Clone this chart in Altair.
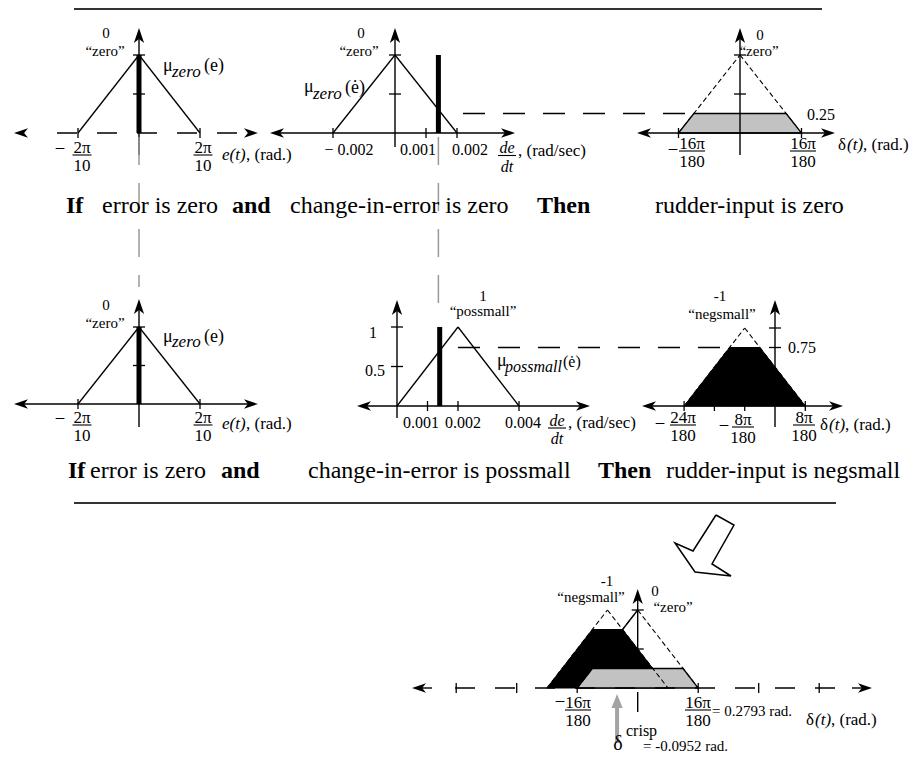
import math
import altair as alt
import pandas as pd

PI = math.pi

# ---------------- values ----------------
error_zero = [-2 * PI / 10, 0.0, 2 * PI / 10]          # "zero" for e(t)
dedt_zero = [-0.002, 0.0, 0.002]                        # "zero" for de/dt
dedt_possmall = [0.0, 0.002, 0.004]                     # "possmall" for de/dt
rudder_zero = [-16 * PI / 180, 0.0, 16 * PI / 180]      # "zero" for delta(t)
rudder_negsmall = [-24 * PI / 180, -8 * PI / 180, 8 * PI / 180]  # "negsmall"
mf_levels = [0.0, 1.0, 0.0]
error_input = 0.0
dedt_input = 0.0014
rule_strength = [0.25, 0.75]
delta_crisp = -0.0952

error_ticks = [-2 * PI / 10, 2 * PI / 10]
dedt_zero_ticks = [-0.002, 0.001, 0.002]
dedt_possmall_ticks = [0.001, 0.002, 0.004]
rudder_zero_ticks = [-16 * PI / 180, 16 * PI / 180]
rudder_negsmall_ticks = [-24 * PI / 180, -16 * PI / 180, -8 * PI / 180, 8 * PI / 180]
agg_ticks = [-48 * PI / 180, -32 * PI / 180, -16 * PI / 180, 16 * PI / 180,
             32 * PI / 180, 48 * PI / 180]
mu_ticks = [0.5, 1.0]
mu_ticks_negsmall = [0.75, 1.0]

dedt_zero_labels = ["\u2212 0.002", "0.001", "0.002"]
dedt_possmall_labels = ["0.001", "0.002", "0.004"]
error_tick_labels = [("\u2013", "2\u03c0", "10"), ("", "2\u03c0", "10")]
rudder_zero_labels = [("\u2013", "16\u03c0", "180"), ("", "16\u03c0", "180")]
rudder_negsmall_labels = [("\u2013", "24\u03c0", "180"), ("\u2013", "8\u03c0", "180"), ("", "8\u03c0", "180")]
agg_labels = [("\u2013", "16\u03c0", "180"), ("", "16\u03c0", "180")]

rule1_words = ["If", "error is zero", "and", "change-in-error is zero", "Then", "rudder-input is zero"]
rule2_words = ["If", "error is zero", "and", "change-in-error is possmall", "Then", "rudder-input is negsmall"]
rule_bold = [True, False, True, False, True, False]

# ---------------- layout ----------------
FONT = "'Liberation Serif', 'Times New Roman', Times, 'DejaVu Serif', serif"
W, H = 902, 745
XS = alt.Scale(domain=[8, 8 + W], nice=False, zero=False)
YS = alt.Scale(domain=[8, 8 + H], nice=False, zero=False, reverse=True)

PAN = {
    "e1": dict(x0=139.0, y0=133.0, sx=61.0 / (2 * PI / 10), sy=78.0),
    "d1": dict(x0=395.0, y0=133.0, sx=62.0 / 0.002, sy=78.0),
    "u1": dict(x0=740.0, y0=133.0, sx=61.5 / (16 * PI / 180), sy=78.0),
    "e2": dict(x0=139.0, y0=404.0, sx=61.0 / (2 * PI / 10), sy=77.0),
    "d2": dict(x0=397.0, y0=406.0, sx=61.0 / 0.002, sy=79.0),
    "u2": dict(x0=775.0, y0=406.0, sx=30.3 / (8 * PI / 180), sy=78.0),
    "ag": dict(x0=637.7, y0=688.0, sx=60.5 / (16 * PI / 180), sy=78.0),
}
AX = {
    "e1": dict(xl=14, xr=258, yt=28, yb=155),
    "d1": dict(xl=270, xr=515, yt=28, yb=147),
    "u1": dict(xl=637, xr=835, yt=28, yb=155),
    "e2": dict(xl=14, xr=258, yt=299, yb=427),
    "d2": dict(xl=357, xr=590, yt=300, yb=418),
    "u2": dict(xl=642, xr=843, yt=300, yb=427),
    "ag": dict(xl=412, xr=872, yt=589, yb=650),
}


def PX(p, u):
    return PAN[p]["x0"] + u * PAN[p]["sx"]


def PY(p, m):
    return PAN[p]["y0"] - m * PAN[p]["sy"]


segs, heads, areas, texts = [], [], [], []


def S(style, x1, y1, x2, y2, layer="over"):
    segs.append(dict(style=style, layer=layer, x=x1, y=y1, x2=x2, y2=y2))


def arrow(tx, ty, ang, L=14, color="black"):
    d = {0: (1, 0), 180: (-1, 0), 270: (0, -1), 90: (0, 1)}[ang]
    heads.append(dict(x=tx - d[0] * L / 2, y=ty - d[1] * L / 2, angle=ang,
                      size=L * L, color=color))


def T(text, x, y, size, style="normal", align="center"):
    texts.append(dict(text=text, x=x, y=y, size=size, style=style, align=align))


def tri(p, mf, style, layer="over"):
    for i in range(2):
        S(style, PX(p, mf[i]), PY(p, mf_levels[i]), PX(p, mf[i + 1]), PY(p, mf_levels[i + 1]), layer)


def clip_points(mf, h):
    a, b, c = mf
    return [a, a + h * (b - a), c - h * (c - b), c]


def trap(p, mf, h, fill, sid):
    xs = clip_points(mf, h)
    for xv, lv in zip(xs, [0, h, h, 0]):
        areas.append(dict(shape=sid, fill=fill, x=PX(p, xv), y=PY(p, lv), y2=PY(p, 0)))


def frac(cx, bar_y, num, den, w, size=17, italic=False):
    st = "italic" if italic else "normal"
    T(num, cx, bar_y - 2.5, size, st)
    T(den, cx, bar_y + 16, size, st)
    S("frac", cx - w / 2, bar_y, cx + w / 2, bar_y)


# ---- horizontal rules ----
S("rule", 74, 9, 822, 9)
S("rule", 74, 503, 836, 503)

# ---- axes ----
for p, a in AX.items():
    x0, y0 = PAN[p]["x0"], PAN[p]["y0"]
    if p == "e1":
        S("axis_dash", 57, y0, 240, y0)
    elif p == "ag":
        S("axis_dash", 455, y0, 836, y0)
        S("axis", 418, y0, 432, y0)
        S("axis", 852, y0, 866, y0)
    else:
        S("axis", a["xl"] + 4, y0, a["xr"] - 4, y0)
    arrow(a["xl"], y0, 180)
    arrow(a["xr"], y0, 0)
    S("axis", x0, a["yt"] + 5, x0, a["yb"], "under" if p == "ag" else "over")
    arrow(x0, a["yt"], 270, L=15)
S("axis", PAN["ag"]["x0"], 692, PAN["ag"]["x0"], 712)

# ---- ticks ----
tick_sets = [("e1", error_ticks, mu_ticks), ("d1", dedt_zero_ticks, mu_ticks),
             ("u1", rudder_zero_ticks, mu_ticks), ("e2", error_ticks, mu_ticks),
             ("d2", dedt_possmall_ticks, mu_ticks), ("u2", rudder_negsmall_ticks, mu_ticks_negsmall),
             ("ag", agg_ticks, mu_ticks)]
for p, xt, yt in tick_sets:
    x0, y0 = PAN[p]["x0"], PAN[p]["y0"]
    for t in xt:
        S("tick", PX(p, t), y0 - 5, PX(p, t), y0 + 5)
    for m in yt:
        S("tick", x0 - 6, PY(p, m), x0 + 6, PY(p, m))

# ---- membership functions ----
tri("e1", error_zero, "mf")
tri("d1", dedt_zero, "mf")
tri("u1", rudder_zero, "mf_dash", "under")
tri("e2", error_zero, "mf")
tri("d2", dedt_possmall, "mf")
tri("u2", rudder_negsmall, "mf_dash", "under")
tri("ag", rudder_negsmall, "mf_dash", "over")
tri("ag", rudder_zero, "mf_dash", "over")
# solid part of zero's left edge above the negsmall cut
h2 = rule_strength[1]
S("mf", PX("ag", rudder_zero[1]), PY("ag", 1.0),
  PX("ag", clip_points(rudder_negsmall, h2)[2]), PY("ag", h2))

trap("u1", rudder_zero, rule_strength[0], "stipple", "u1")
trap("u2", rudder_negsmall, rule_strength[1], "black", "u2")
trap("ag", rudder_negsmall, rule_strength[1], "black", "agn")
trap("ag", rudder_zero, rule_strength[0], "stipple", "agz")

# ---- measured inputs (bars) and guide lines ----
for p, v in [("e1", error_input), ("d1", dedt_input), ("e2", error_input), ("d2", dedt_input)]:
    S("bar", PX(p, v), PY(p, 0), PX(p, v), PY(p, 1))
S("guide", PX("e1", error_input), 137, PX("e1", error_input), 287)
S("guide", PX("d1", dedt_input), 137, PX("d1", dedt_input), 312)

# ---- firing-level dashed lines ----
yl1 = PY("u1", rule_strength[0])
S("level_dash", 463, yl1, PX("u1", clip_points(rudder_zero, rule_strength[0])[1]), yl1)
yl2 = PY("u2", rule_strength[1])
S("level_dash", PX("d2", dedt_possmall[1]), yl2,
  PX("u2", clip_points(rudder_negsmall, rule_strength[1])[1]), yl2)

# ---- crisp output arrow ----
cx = PX("ag", delta_crisp)
S("crisp", cx, 743, cx, 706)
crisp_head = [dict(x=cx, y=694 + 7, angle=270, size=196)]

# ---- hollow arrow ----
hollow = [(716, 515), (734, 525), (712, 564), (731, 576), (695, 572), (675, 543), (693, 551), (716, 515)]
hollow_df = pd.DataFrame([dict(i=i, x=x, y=y) for i, (x, y) in enumerate(hollow)])

# ---------------- texts ----------------
for words, base, xs_ in [(rule1_words, 213, [66, 102, 232, 290, 537, 655]),
                         (rule2_words, 478, [68, 90, 221, 308, 598, 666])]:
    for w, b, x in zip(words, rule_bold, xs_):
        T(w, x, base, 24, "bold" if b else "normal", "left")

# e1
T("0", 106, 38, 15); T("\u201czero\u201d", 105, 55.5, 15)
T("\u03bc", 163, 71, 18, align="left"); T("zero", 172, 77, 17, "italic", "left")
T("(e)", 204, 71, 18, align="left")
for (sg, nu, de), cxf in zip(error_tick_labels, [82, 203]):
    if sg:
        T(sg, cxf - 22, 152, 17)
    frac(cxf, 155, nu, de, 19)
T("e(t)", 222, 160, 17, "italic", "left"); T(", (rad.)", 246, 160, 17, align="left")

# d1
T("0", 361, 38, 15); T("\u201czero\u201d", 359, 56, 15)
T("\u03bc", 304, 92, 18, align="left"); T("zero", 313, 99, 17, "italic", "left")
T("(\u0117)", 345, 93, 18, align="left")
for lab, cxl in zip(dedt_zero_labels, [349, 418, 470]):
    T(lab, cxl, 155, 16)
frac(507, 155.5, "de", "dt", 18, 16, True)
T(", (rad/sec)", 518, 156, 17, align="left")

# u1
T("0", 760, 40, 15); T("\u201czero\u201d", 759, 55.5, 15)
T("0.25", 821, 120, 16)
for (sg, nu, de), cxf in zip(rudder_zero_labels, [692, 803]):
    if sg:
        T(sg, cxf - 19, 153, 17)
    frac(cxf, 151, nu, de, 26)
T("\u03b4", 838, 150, 17, align="left"); T("(t)", 847, 150, 17, "italic", "left")
T(", (rad.)", 863, 150, 17, align="left")

# e2
T("0", 106, 310, 15); T("\u201czero\u201d", 105, 327.5, 15)
T("\u03bc", 163, 342, 18, align="left"); T("zero", 172, 347, 17, "italic", "left")
T("(e)", 204, 342, 18, align="left")
for (sg, nu, de), cxf in zip(error_tick_labels, [82, 203]):
    if sg:
        T(sg, cxf - 22, 421.5, 17)
    frac(cxf, 425, nu, de, 19)
T("e(t)", 222, 428.5, 17, "italic", "left"); T(", (rad.)", 246, 428.5, 17, align="left")

# d2
T("1", 483, 301, 15); T("\u201cpossmall\u201d", 483, 316, 15)
T("1", 373, 337.5, 16); T("0.5", 375, 375.5, 16)
T("\u03bc", 497, 366, 18, align="left"); T("possmall", 505, 372, 16, "italic", "left")
T("(\u0117)", 563, 367, 16, align="left")
for lab, cxl in zip(dedt_possmall_labels, [421, 463, 523]):
    T(lab, cxl, 427.5, 16)
frac(557, 428, "de", "dt", 18, 16, True)
T(", (rad/sec)", 568, 428, 17, align="left")

# u2
T("-1", 720, 301, 15); T("\u201cnegsmall\u201d", 722, 318.5, 15)
T("0.75", 802, 352.5, 16)
for (sg, nu, de), cxf, by in zip(rudder_negsmall_labels, [683, 743, 804], [425, 427, 425]):
    if sg:
        T(sg, cxf - (23 if len(nu) > 2 else 19), by + 2, 17)
    frac(cxf, by, nu, de, 26 if len(nu) > 2 else 22)
T("\u03b4", 820, 430, 17, align="left"); T("(t)", 829, 430, 17, "italic", "left")
T(", (rad.)", 845, 430, 17, align="left")

# aggregate
T("-1", 607, 586, 15); T("\u201cnegsmall\u201d", 591, 602, 15)
T("0", 655, 596, 15); T("\u201czero\u201d", 673, 612, 15)
for (sg, nu, de), cxf in zip(agg_labels, [578, 698]):
    if sg:
        T(sg, cxf - 18, 705, 17)
    frac(cxf, 710, nu, de, 26)
T("= 0.2793 rad.", 712, 716, 15, align="left")
T("\u03b4", 806, 725, 17, align="left"); T("(t)", 815, 725, 17, "italic", "left")
T(", (rad.)", 831, 725, 17, align="left")
T("\u03b4", 618, 750, 20)
T("crisp", 626, 736, 16, align="left")
T("= -0.0952 rad.", 643, 751, 15, align="left")

# ---------------- build chart ----------------
STYLE = {
    "axis": dict(color="black", strokeWidth=1.4),
    "mf": dict(color="black", strokeWidth=1.3),
    "tick": dict(color="black", strokeWidth=1.3),
    "frac": dict(color="black", strokeWidth=1.1),
    "axis_dash": dict(color="black", strokeWidth=1.4, strokeDash=[20, 20]),
    "level_dash": dict(color="black", strokeWidth=1.4, strokeDash=[22, 18]),
    "mf_dash": dict(color="black", strokeWidth=1.1, strokeDash=[5, 3]),
    "bar": dict(color="black", strokeWidth=5),
    "guide": dict(color="#9a9a9a", strokeWidth=1.5, strokeDash=[28, 18]),
    "rule": dict(color="#333333", strokeWidth=2),
    "crisp": dict(color="#a3a3a3", strokeWidth=4),
}

seg_df = pd.DataFrame(segs)
area_df = pd.DataFrame(areas)
head_df = pd.DataFrame(heads)
text_df = pd.DataFrame(texts)

X = alt.X("x:Q", scale=XS, axis=None)
Y = alt.Y("y:Q", scale=YS, axis=None)


def seg_layers(layer):
    out = []
    sub = seg_df[seg_df["layer"] == layer]
    for st, grp in sub.groupby("style", sort=False):
        out.append(alt.Chart(grp).mark_rule(**STYLE[st]).encode(
            x=X, y=Y, x2="x2:Q", y2="y2:Q"))
    return out


layers = []
layers += seg_layers("under")
layers.append(alt.Chart(area_df[area_df["fill"] == "black"]).mark_area(
    color="black", opacity=1, stroke="black", strokeWidth=1.0).encode(
    x=X, y=Y, y2="y2:Q", detail="shape:N"))
layers.append(alt.Chart(area_df[area_df["fill"] == "stipple"]).mark_area(
    fill="#c2c2c2", opacity=1, stroke="black", strokeWidth=1.3).encode(
    x=X, y=Y, y2="y2:Q", detail="shape:N"))
layers += seg_layers("over")

ARROW = "M1,0L-1,-0.68L-0.45,0L-1,0.68Z"
TRI = "M1,0L-1,-0.8L-1,0.8Z"
layers.append(alt.Chart(head_df).mark_point(
    shape=ARROW, filled=True, color="black", opacity=1, strokeWidth=0).encode(
    x=X, y=Y, angle=alt.Angle("angle:Q", scale=None), size=alt.Size("size:Q", scale=None)))
layers.append(alt.Chart(pd.DataFrame(crisp_head)).mark_point(
    shape=TRI, filled=True, color="#a3a3a3", opacity=1, strokeWidth=0).encode(
    x=X, y=Y, angle=alt.Angle("angle:Q", scale=None), size=alt.Size("size:Q", scale=None)))
layers.append(alt.Chart(hollow_df).mark_line(
    color="black", strokeWidth=1.5, strokeJoin="miter").encode(
    x=X, y=Y, order="i:Q"))

for (st, al), grp in text_df.groupby(["style", "align"]):
    kw = dict(font=FONT, baseline="alphabetic", align=al, color="black")
    if st == "italic":
        kw["fontStyle"] = "italic"
    if st == "bold":
        kw["fontWeight"] = "bold"
    layers.append(alt.Chart(grp).mark_text(**kw).encode(
        x=X, y=Y, text="text:N", size=alt.Size("size:Q", scale=None)))

chart = alt.layer(*layers).properties(
    width=W, height=H, padding=0,
    autosize=alt.AutoSizeParams(type="none"),
).configure_view(stroke=None)

chart.save("out.html", embed_options={"renderer": "svg", "actions": False})
